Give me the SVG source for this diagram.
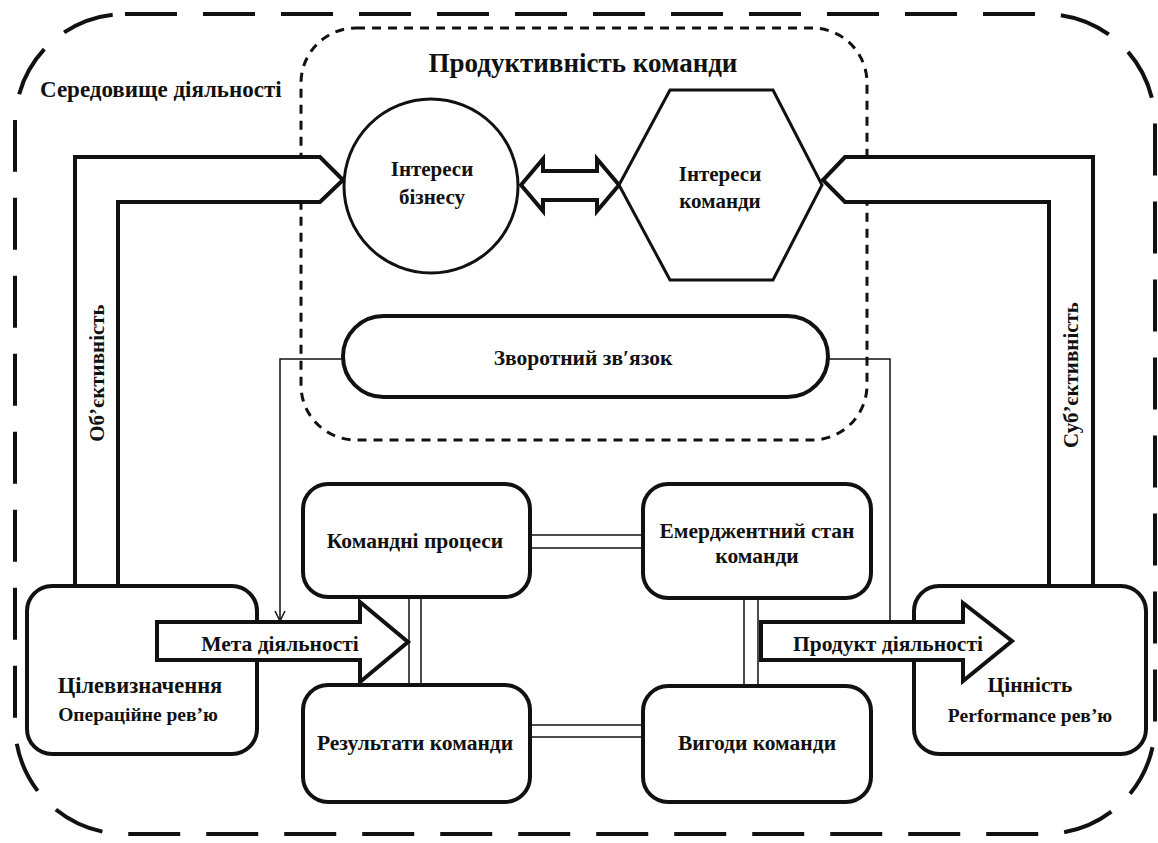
<svg xmlns="http://www.w3.org/2000/svg" width="1158" height="843" viewBox="0 0 1158 843">
<style>
  .t{font-family:"Liberation Serif","Times New Roman",serif;font-weight:bold;fill:#111;text-anchor:middle}
  .box{fill:#fff;stroke:#111;stroke-width:4}
  .band{fill:#fff;stroke:#111;stroke-width:4;stroke-linejoin:miter}
  .thin{fill:none;stroke:#111;stroke-width:1.5}
</style>
<defs>
  <marker id="ah" viewBox="0 0 10 10" refX="10" refY="5" markerWidth="10" markerHeight="12" markerUnits="userSpaceOnUse" orient="auto">
    <path d="M0,0 L10,5 L0,10" fill="none" stroke="#111" stroke-width="1.5"/>
  </marker>
</defs>
<rect width="1158" height="843" fill="#fff"/>

<g id="environment">
  <rect x="15" y="14" width="1140" height="820" rx="110" ry="110" fill="none" stroke="#111" stroke-width="4" stroke-dasharray="52 26"/>
  <text class="t" x="40" y="97" font-size="23" style="text-anchor:start">Середовище діяльності</text>
</g>

<g id="team-productivity">
  <rect x="301" y="28" width="566" height="412" rx="55" ry="55" fill="none" stroke="#111" stroke-width="3" stroke-dasharray="9 7"/>
  <text class="t" x="583" y="72" font-size="27">Продуктивність команди</text>
</g>

<g id="connectors">
  <!-- objectivity band -->
  <polygon class="band" points="75,586 75,157 320,157 343,180 320,202 118,202 118,586"/>
  <text class="t" font-size="21" transform="translate(104,373) rotate(-90)">Об’єктивність</text>
  <!-- subjectivity band -->
  <polygon class="band" points="1093,586 1093,157 845,157 823,180 845,202 1049,202 1049,586"/>
  <text class="t" font-size="21" transform="translate(1078,375) rotate(-90)">Суб’єктивність</text>
  <!-- double-headed arrow -->
  <polygon class="band" stroke-width="3" points="521,185 543,159 543,171 597,171 597,159 619,185 597,211 597,200 543,200 543,211"/>
  <!-- feedback thin lines -->
  <polyline class="thin" points="343,359 280,359 280,621" marker-end="url(#ah)"/>
  <polyline class="thin" points="828,359 890,359 890,622"/>
  <!-- double lines between boxes -->
  <g class="thin">
    <line x1="530" y1="535" x2="643" y2="535"/>
    <line x1="530" y1="548" x2="643" y2="548"/>
    <line x1="530" y1="725" x2="643" y2="725"/>
    <line x1="530" y1="737" x2="643" y2="737"/>
    <line x1="409" y1="597" x2="409" y2="685"/>
    <line x1="421" y1="597" x2="421" y2="685"/>
    <line x1="744" y1="598" x2="744" y2="686"/>
    <line x1="758" y1="598" x2="758" y2="686"/>
  </g>
</g>

<g id="business-interests">
  <circle cx="431" cy="186" r="87" fill="#fff" stroke="#111" stroke-width="3"/>
  <text class="t" x="432" y="176" font-size="21">Інтереси</text>
  <text class="t" x="432" y="204" font-size="21">бізнесу</text>
</g>

<g id="team-interests">
  <polygon points="619,185 670,90 773,90 822,185 773,280 670,280" fill="#fff" stroke="#111" stroke-width="3"/>
  <text class="t" x="720" y="181" font-size="21">Інтереси</text>
  <text class="t" x="720" y="208" font-size="21">команди</text>
</g>

<g id="feedback">
  <rect x="343" y="316" width="485" height="81" rx="40.5" ry="40.5" class="box"/>
  <text class="t" x="583" y="365" font-size="21.5">Зворотний зв′язок</text>
</g>

<g id="team-processes">
  <rect x="303" y="484" width="227" height="113" rx="25" class="box"/>
  <text class="t" x="415" y="548" font-size="21.5">Командні процеси</text>
</g>

<g id="emergent-state">
  <rect x="643" y="484" width="228" height="114" rx="25" class="box"/>
  <text class="t" x="757" y="538" font-size="21.5">Емерджентний стан</text>
  <text class="t" x="757" y="563" font-size="21.5">команди</text>
</g>

<g id="team-results">
  <rect x="303" y="685" width="227" height="117" rx="25" class="box"/>
  <text class="t" x="415" y="750" font-size="21.5">Результати команди</text>
</g>

<g id="team-benefits">
  <rect x="643" y="686" width="228" height="116" rx="25" class="box"/>
  <text class="t" x="757" y="750" font-size="21.5">Вигоди команди</text>
</g>

<g id="goal-setting">
  <rect x="27" y="586" width="230" height="168" rx="25" class="box"/>
  <text class="t" x="140" y="693" font-size="22.5">Цілевизначення</text>
  <text class="t" x="138" y="721" font-size="19.5">Операційне рев’ю</text>
</g>

<g id="value">
  <rect x="914" y="586" width="232" height="168" rx="25" class="box"/>
  <text class="t" x="1030" y="692" font-size="21.5">Цінність</text>
  <text class="t" x="1030" y="722" font-size="19.5">Performance рев’ю</text>
</g>

<g id="activity-goal">
  <polygon class="band" points="157,622 360,622 360,602 408,642 360,682 360,660 157,660"/>
  <text class="t" x="280" y="651" font-size="21.5">Мета діяльності</text>
</g>

<g id="activity-product">
  <polygon class="band" points="761,622 963,622 963,603 1012,641 963,681 963,660 761,660"/>
  <text class="t" x="888" y="651" font-size="21.5">Продукт діяльності</text>
</g>
</svg>
